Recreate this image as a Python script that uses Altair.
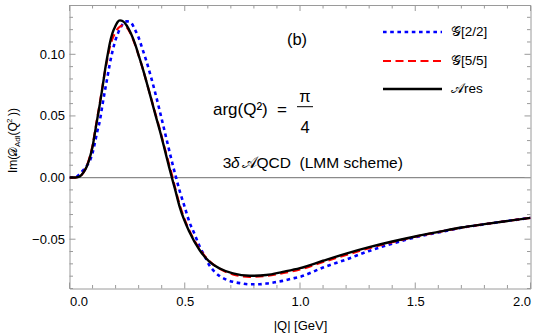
import altair as alt
import pandas as pd

# Sampled curves: Im(D_Adl(Q^2)) along arg(Q^2) = pi/4, versus |Q| in GeV
q_res = [0.0, 0.02, 0.03, 0.045, 0.06, 0.075, 0.089, 0.10, 0.11, 0.12, 0.132, 0.143, 0.154,
         0.165, 0.175, 0.186, 0.197, 0.208, 0.219, 0.23, 0.248, 0.266, 0.284, 0.302, 0.32,
         0.338, 0.356, 0.374, 0.392, 0.41, 0.428, 0.444, 0.457, 0.478, 0.52, 0.565, 0.608,
         0.652, 0.709, 0.781, 0.854, 0.925, 1.0, 1.1, 1.2, 1.3, 1.4, 1.5, 1.6, 1.7, 1.8, 1.9, 2.0]
im_res = [0.0, 0.0, 0.0002, 0.001, 0.004, 0.009, 0.0167, 0.025, 0.036, 0.047, 0.060, 0.073, 0.087,
          0.099, 0.109, 0.117, 0.122, 0.126, 0.1275, 0.127, 0.1234, 0.117, 0.1086, 0.098, 0.087,
          0.075, 0.0626, 0.050, 0.038, 0.025, 0.0116, 0.0, -0.0088, -0.0238, -0.044, -0.059, -0.0684,
          -0.0738, -0.0778, -0.0797, -0.079, -0.0765, -0.0735, -0.0675, -0.0617, -0.0565, -0.0519,
          -0.0478, -0.0441, -0.0405, -0.0378, -0.0352, -0.0327]

q_g55 = [0.0, 0.02, 0.03, 0.045, 0.06, 0.075, 0.089, 0.10, 0.11, 0.12, 0.132, 0.143, 0.154,
         0.165, 0.175, 0.186, 0.197, 0.208, 0.219, 0.232, 0.248, 0.266, 0.284, 0.302, 0.32,
         0.338, 0.356, 0.374, 0.392, 0.41, 0.428, 0.446, 0.457, 0.478, 0.52, 0.565, 0.608,
         0.652, 0.709, 0.781, 0.854, 0.925, 1.0, 1.1, 1.2, 1.3, 1.4, 1.5, 1.6, 1.7, 1.8, 1.9, 2.0]
im_g55 = [0.0, 0.0, 0.0002, 0.001, 0.004, 0.0095, 0.0175, 0.026, 0.037, 0.048, 0.061, 0.074, 0.086,
          0.097, 0.106, 0.1125, 0.117, 0.1205, 0.1225, 0.1235, 0.122, 0.1165, 0.108, 0.098, 0.087,
          0.075, 0.063, 0.051, 0.039, 0.026, 0.0135, 0.001, -0.0075, -0.022, -0.043, -0.058, -0.068,
          -0.074, -0.0785, -0.0805, -0.0798, -0.0775, -0.0745, -0.0685, -0.0628, -0.0573, -0.0525,
          -0.048, -0.0442, -0.0406, -0.0378, -0.0352, -0.0327]

q_g22 = [0.0, 0.02, 0.03, 0.045, 0.06, 0.075, 0.089, 0.10, 0.11, 0.12, 0.132, 0.143, 0.154,
         0.165, 0.175, 0.186, 0.197, 0.208, 0.219, 0.233, 0.248, 0.26, 0.27, 0.284, 0.299, 0.317,
         0.335, 0.353, 0.371, 0.389, 0.407, 0.425, 0.443, 0.461, 0.479, 0.50, 0.52, 0.543, 0.565,
         0.587, 0.608, 0.63, 0.652, 0.68, 0.709, 0.745, 0.781, 0.818, 0.854, 0.89, 0.925, 0.96,
         1.0, 1.1, 1.2, 1.3, 1.4, 1.5, 1.6, 1.7, 1.8, 1.9, 2.0]
im_g22 = [0.0, 0.0, 0.0005, 0.003, 0.006, 0.0095, 0.014, 0.020, 0.028, 0.037, 0.0464, 0.059, 0.0707,
          0.082, 0.0924, 0.102, 0.110, 0.116, 0.1207, 0.125, 0.1267, 0.1265, 0.125, 0.120, 0.114, 0.104,
          0.0937, 0.082, 0.0694, 0.056, 0.042, 0.028, 0.014, 0.001, -0.0115, -0.024, -0.036, -0.046, -0.056,
          -0.064, -0.0715, -0.0765, -0.080, -0.0828, -0.0846, -0.0858, -0.0866, -0.0866, -0.086, -0.085,
          -0.0838, -0.0822, -0.0805, -0.073, -0.0665, -0.0595, -0.0537, -0.0485, -0.0445, -0.0407,
          -0.0379, -0.0352, -0.0327]

# Frame ticks and labels
x_major = [0.0, 0.5, 1.0, 1.5, 2.0]
x_minor = [0.1, 0.2, 0.3, 0.4, 0.6, 0.7, 0.8, 0.9, 1.1, 1.2, 1.3, 1.4, 1.6, 1.7, 1.8, 1.9]
y_major = [-0.05, 0.0, 0.05, 0.10]
y_minor = [-0.09, -0.08, -0.07, -0.06, -0.04, -0.03, -0.02, -0.01, 0.01, 0.02, 0.03, 0.04,
           0.06, 0.07, 0.08, 0.09, 0.11, 0.12, 0.13]

legend_labels = ["\U0001D4A2[2/2]", "\U0001D4A2[5/5]", "\U0001D49Cres"]

W, H = 461, 283.5
FONT = "Liberation Sans"
FRAME = "#9a9a9a"

xscale = alt.Scale(domain=[0, 2], nice=False, zero=False)
yscale = alt.Scale(domain=[-0.09, 0.14], nice=False, zero=False)
xaxis = alt.Axis(values=x_major, format=".1f", title="|Q| [GeV]", ticks=False, domain=False,
                 grid=False, labelPadding=7, titlePadding=11, titleFontWeight="normal")
yaxis = alt.Axis(values=y_major, format=".2f", title=None, ticks=False, domain=False,
                 grid=False, labelPadding=5)


def X(field="q"):
    return alt.X(f"{field}:Q", scale=xscale, axis=xaxis)


def Y(field="im"):
    return alt.Y(f"{field}:Q", scale=yscale, axis=yaxis)


def curve(qs, ims, color, width, dash=None):
    df = pd.DataFrame({"q": qs, "im": ims})
    kw = dict(color=color, strokeWidth=width, interpolate="monotone", clip=True, strokeCap="butt")
    if dash:
        kw["strokeDash"] = dash
    return alt.Chart(df).mark_line(**kw).encode(x=X(), y=Y())


zero = alt.Chart(pd.DataFrame({"im": [0.0]})).mark_rule(color="#8a8a8a", strokeWidth=1.3).encode(y=Y())


def xticks(vals, length):
    df = pd.DataFrame({"q": vals})
    bottom = alt.Chart(df).mark_rule(color=FRAME, strokeWidth=1).encode(
        x=X(), y=alt.value(H), y2=alt.value(H - length))
    top = alt.Chart(df).mark_rule(color=FRAME, strokeWidth=1).encode(
        x=X(), y=alt.value(0), y2=alt.value(length))
    return [bottom, top]


def yticks(vals, length):
    df = pd.DataFrame({"im": vals})
    left = alt.Chart(df).mark_rule(color=FRAME, strokeWidth=1).encode(
        y=Y(), x=alt.value(0), x2=alt.value(length))
    right = alt.Chart(df).mark_rule(color=FRAME, strokeWidth=1).encode(
        y=Y(), x=alt.value(W), x2=alt.value(W - length))
    return [left, right]


def label(text, x, y, size=16, align="left", baseline="alphabetic", angle=0, style="normal"):
    kw = dict(text=text, font=FONT, fontSize=size, align=align, baseline=baseline,
              fontStyle=style, color="black")
    if angle:
        kw["angle"] = angle
    return alt.Chart(pd.DataFrame({"a": [0]})).mark_text(**kw).encode(
        x=alt.value(x), y=alt.value(y))


def hline(x1, x2, y, color, width, dash=None):
    kw = dict(color=color, strokeWidth=width, strokeCap="butt")
    if dash:
        kw["strokeDash"] = dash
    return alt.Chart(pd.DataFrame({"a": [0]})).mark_rule(**kw).encode(
        x=alt.value(x1), x2=alt.value(x2), y=alt.value(y))


BLUE_DASH = [3.6, 3.6]
RED_DASH = [8, 4.5]

layers = [zero]
layers += xticks(x_major, 6) + xticks(x_minor, 3.5)
layers += yticks(y_major, 6) + yticks(y_minor, 3.5)
layers += [
    curve(q_g22, im_g22, "#0000ff", 2.6, BLUE_DASH),
    curve(q_g55, im_g55, "#ff0000", 2.2, RED_DASH),
    curve(q_res, im_res, "black", 2.4),
]

# Legend
legend_y = [27, 56, 84]
layers += [
    hline(313.5, 372.5, legend_y[0], "#0000ff", 2.6, BLUE_DASH),
    hline(313.5, 372.5, legend_y[1], "#ff0000", 2.2, RED_DASH),
    hline(313.5, 372.5, legend_y[2], "black", 2.4),
]
for lab, ly in zip(legend_labels, legend_y):
    layers.append(label(lab, 381.5, ly, size=13.5, baseline="middle"))

# Annotations
layers += [
    label("(b)", 227.5, 35, size=16.5, align="center", baseline="middle"),
    label("arg(Q\u00b2)", 143.5, 110, size=17),
    label("=", 207.5, 110, size=17),
    label("\u03c0", 235.5, 96.7, size=16.5, align="center"),
    hline(227.5, 243.5, 101.7, "black", 1),
    label("4", 235.5, 128.3, size=16.5, align="center"),
    label("3", 153.2, 163, size=15.5),
    label("\u03b4", 161.5, 163, size=15.5, style="italic"),
    label("\U0001D49CQCD\u00a0\u00a0(LMM scheme)", 172, 163, size=15.5),
]

# Vertical axis title: Im(D_Adl(Q^2)) with sub- and superscript pieces
yt = -53
layers += [
    label("Im(", yt, 168, size=12, angle=270),
    label("\U0001D49F", yt, 151.5, size=12, angle=270),
    label("Adl", yt + 3, 142, size=8, angle=270),
    label("(Q", yt, 130.5, size=12, angle=270),
    label("2", yt - 5, 118, size=8, angle=270),
    label("))", yt, 111, size=12, angle=270),
]

chart = alt.layer(*layers).properties(
    width=W, height=H,
    background="white",
    autosize=alt.AutoSizeParams(type="none"),
    padding={"left": 69.5, "top": 5, "right": 11.5, "bottom": 45.5},
).configure_view(
    stroke=FRAME, strokeWidth=1
).configure_axis(
    labelFont=FONT, labelFontSize=13, labelColor="black",
    titleFont=FONT, titleFontSize=13, titleFontWeight="normal", titleColor="black",
)

chart.save("out.html", embed_options={"renderer": "svg", "actions": False})
